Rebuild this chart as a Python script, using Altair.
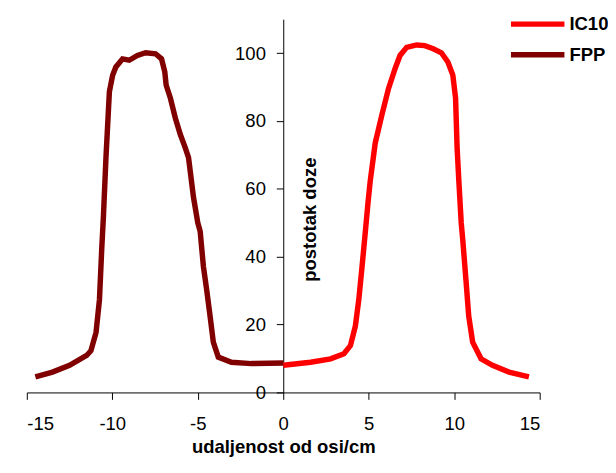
import altair as alt
import pandas as pd

# FPP (dark red) profile, left half
fpp_x = [-14.5, -13.5, -12.5, -11.5, -11.25, -10.95, -10.75, -10.62, -10.52, -10.37,
         -10.17, -9.98, -9.79, -9.40, -9.01, -8.53, -8.05, -7.47, -7.12, -6.93,
         -6.85, -6.60, -6.31, -6.02, -5.73, -5.54, -5.25, -5.0, -4.86, -4.67,
         -4.48, -4.28, -4.09, -3.80, -3.03, -1.87, 0.0]
fpp_y = [4.6, 6.0, 8.0, 10.9, 12.3, 17.7, 27.4, 42.0, 51.7, 69.2,
         88.6, 93.5, 95.9, 98.3, 97.9, 99.3, 100.1, 99.8, 98.3, 94.5,
         90.6, 86.7, 80.8, 76.0, 72.1, 69.2, 57.5, 50.0, 47.5, 37.1,
         30.3, 22.5, 14.8, 10.4, 8.9, 8.5, 8.7]

# IC10 (red) profile, right half
ic_x = [0.0, 1.6, 2.77, 3.55, 3.93, 4.22, 4.42, 4.61, 4.80, 4.97,
        5.09, 5.38, 5.77, 6.16, 6.54, 6.83, 7.22, 7.80, 8.28, 8.77,
        9.25, 9.63, 9.92, 10.08, 10.17, 10.27, 10.41, 10.50, 10.70, 10.85,
        11.08, 11.57, 12.24, 13.21, 14.37]
ic_y = [8.0, 8.9, 9.9, 11.4, 13.8, 19.6, 27.4, 37.1, 47.3, 56.6,
        62.4, 73.5, 81.8, 89.6, 95.4, 99.3, 101.7, 102.4, 102.2, 101.3,
        100.1, 97.4, 93.5, 86.7, 72.1, 62.4, 50.0, 45.0, 32.3, 22.5,
        14.8, 9.9, 8.0, 6.0, 4.6]

series = ["IC10", "FPP"]
colors = ["#FF0000", "#800000"]
x_ticks = [-15, -10, -5, 0, 5, 10, 15]
y_ticks = [0, 20, 40, 60, 80, 100]

df = pd.concat([
    pd.DataFrame({"x": ic_x, "y": ic_y, "s": "IC10", "o": range(len(ic_x))}),
    pd.DataFrame({"x": fpp_x, "y": fpp_y, "s": "FPP", "o": range(len(fpp_x))}),
])

FONT = "Liberation Sans"
FS = 18.67
W, H = 518, 377
PL, PT = 19, 9
TOTAL_W, TOTAL_H = 606, 457

chart = alt.Chart(df).mark_line(strokeWidth=5.5).encode(
    x=alt.X("x:Q", scale=alt.Scale(domain=[-15, 15], nice=False),
            axis=alt.Axis(values=x_ticks, grid=False, tickSize=7, labelPadding=15,
                          labelExpr="toString(datum.value)",
                          labelFontSize=FS, labelFont=FONT, labelColor="black",
                          domainColor="black", tickColor="black",
                          title="udaljenost od osi/cm", titleFont=FONT, titleFontSize=FS,
                          titleFontWeight="bold", titleColor="black",
                          titleY=61, titleBaseline="alphabetic")),
    y=alt.Y("y:Q", scale=alt.Scale(domain=[0, 110], nice=False),
            axis=alt.Axis(values=y_ticks, grid=False, tickSize=7, labelPadding=11,
                          labelFontSize=FS, labelFont=FONT, labelColor="black",
                          domainColor="black", tickColor="black", offset=-W / 2,
                          title="postotak doze", titleFont=FONT, titleFontSize=FS,
                          titleFontWeight="bold", titleColor="black",
                          titleX=27, titleY=202, titleAngle=270,
                          titleAlign="center", titleBaseline="middle")),
    color=alt.Color("s:N", scale=alt.Scale(domain=series, range=colors),
                    legend=alt.Legend(title=None, orient="none", legendX=503, legendY=-8,
                                      symbolType="M-2.7,0H2.7", symbolSize=400,
                                      symbolStrokeWidth=5.5, labelOffset=19,
                                      labelFont=FONT, labelFontSize=FS,
                                      labelFontWeight="bold", labelColor="black",
                                      rowPadding=7, padding=0)),
    order="o:Q",
).properties(
    width=W, height=H,
    padding={"left": PL, "top": PT, "right": TOTAL_W - PL - W, "bottom": TOTAL_H - PT - H},
    autosize=alt.AutoSizeParams(type="none"),
).configure_view(stroke=None)

chart.save("out.html", embed_options={"renderer": "svg", "actions": False})
